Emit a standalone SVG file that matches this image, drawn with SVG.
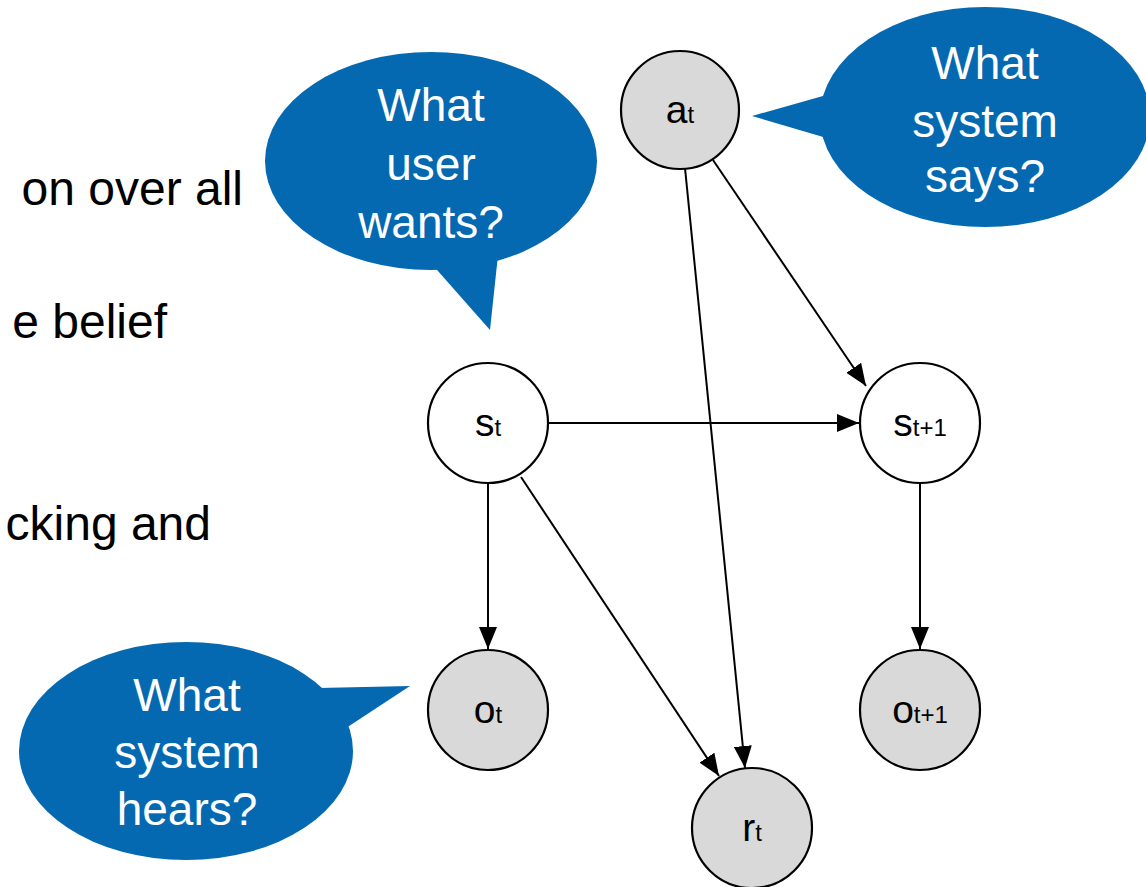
<svg xmlns="http://www.w3.org/2000/svg" width="1146" height="887" viewBox="0 0 1146 887">
<style>
.bg{fill:#ffffff}
.bubble{fill:#0469b1}
.btxt{fill:#ffffff;font-family:"Liberation Sans",Arial,sans-serif;font-size:46px;text-anchor:middle}
.side{fill:#000000;font-family:"Liberation Sans",Arial,sans-serif;font-size:48px}
.node{stroke:#000;stroke-width:2.2}
.obs{fill:#d9d9d9}
.hid{fill:#ffffff}
.lbl{fill:#000;font-family:"Liberation Sans",Arial,sans-serif;text-anchor:middle}
.big{font-size:39px}
.sub{font-size:24px}
.edge{stroke:#000;stroke-width:2;fill:none;marker-end:url(#arr)}
</style>
<defs>
<marker id="arr" markerUnits="userSpaceOnUse" markerWidth="24" markerHeight="18" refX="22" refY="9" orient="auto">
<path d="M0,0 L22,9 L0,18 Z" fill="#000"/>
</marker>
</defs>
<rect class="bg" x="0" y="0" width="1146" height="887"/>
<g id="side-text">
<text class="side" x="243" y="205" text-anchor="end">on over all</text>
<text class="side" x="167" y="338" text-anchor="end">e belief</text>
<text class="side" x="211" y="540" text-anchor="end">cking and</text>
</g>
<g id="connectors">
<line class="edge" x1="548" y1="423" x2="859" y2="423"/>
<line class="edge" x1="713" y1="160" x2="866" y2="386"/>
<line class="edge" x1="685" y1="168" x2="745" y2="768"/>
<line class="edge" x1="521" y1="477" x2="719" y2="776"/>
<line class="edge" x1="488" y1="483" x2="488" y2="649"/>
<line class="edge" x1="920" y1="483" x2="920" y2="649"/>
</g>
<g id="node-at">
<circle class="node obs" cx="680" cy="110" r="59"/>
<text class="lbl" x="680" y="123"><tspan class="big">a</tspan><tspan class="sub">t</tspan></text>
</g>
<g id="node-st">
<circle class="node hid" cx="488" cy="423" r="60"/>
<text class="lbl" x="488" y="436"><tspan class="big">s</tspan><tspan class="sub">t</tspan></text>
</g>
<g id="node-st1">
<circle class="node hid" cx="920" cy="423" r="60"/>
<text class="lbl" x="920" y="436"><tspan class="big">s</tspan><tspan class="sub">t+1</tspan></text>
</g>
<g id="node-ot">
<circle class="node obs" cx="488" cy="710" r="60"/>
<text class="lbl" x="488" y="723"><tspan class="big">o</tspan><tspan class="sub">t</tspan></text>
</g>
<g id="node-ot1">
<circle class="node obs" cx="920" cy="710" r="60"/>
<text class="lbl" x="920" y="723"><tspan class="big">o</tspan><tspan class="sub">t+1</tspan></text>
</g>
<g id="node-rt">
<circle class="node obs" cx="752" cy="828" r="60"/>
<text class="lbl" x="752" y="841"><tspan class="big">r</tspan><tspan class="sub">t</tspan></text>
</g>
<g id="bubble-user-wants">
<ellipse class="bubble" cx="431" cy="161" rx="166" ry="109"/>
<polygon class="bubble" points="430,262 490,330 498,255"/>
<text class="btxt" x="431" y="121">What</text>
<text class="btxt" x="431" y="180">user</text>
<text class="btxt" x="431" y="238">wants?</text>
</g>
<g id="bubble-system-says">
<ellipse class="bubble" cx="985" cy="117" rx="165" ry="110"/>
<polygon class="bubble" points="830,94 752,116 830,139"/>
<text class="btxt" x="985" y="79">What</text>
<text class="btxt" x="985" y="137">system</text>
<text class="btxt" x="985" y="192">says?</text>
</g>
<g id="bubble-system-hears">
<ellipse class="bubble" cx="186" cy="751" rx="167" ry="109"/>
<polygon class="bubble" points="318,688 410,686 340,732"/>
<text class="btxt" x="187" y="711">What</text>
<text class="btxt" x="187" y="768">system</text>
<text class="btxt" x="187" y="825">hears?</text>
</g>
</svg>
